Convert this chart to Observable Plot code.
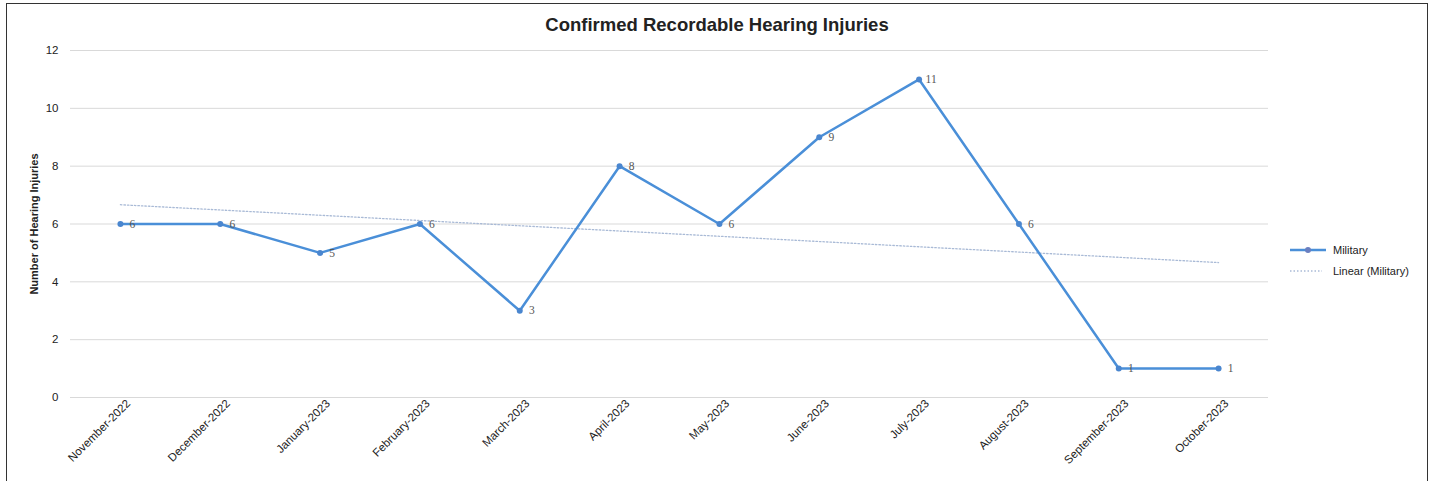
<!DOCTYPE html>
<html>
<head>
<meta charset="utf-8">
<script src="https://cdn.jsdelivr.net/npm/d3@7"></script>
<script src="https://cdn.jsdelivr.net/npm/@observablehq/plot@0.6"></script>
<style>
  html, body { margin: 0; padding: 0; background: #fff; overflow: hidden; }
  #wrap { position: relative; width: 1434px; height: 481px; font-family: "Liberation Sans", Arial, sans-serif; }
  #frame { position: absolute; left: 6px; top: 3px; width: 1422px; height: 490px; border: 1.5px solid #333; box-sizing: border-box; }
  #title { position: absolute; left: 0; width: 1434px; top: 14px; text-align: center; font-size: 18.5px; font-weight: bold; color: #222; }
  #chart { position: absolute; left: 0; top: 40px; }
  #legend { position: absolute; left: 1290px; top: 239px; font-size: 11px; color: #222; }
  .item { display: flex; align-items: center; height: 21px; }
  .sw { width: 36px; margin-right: 7px; position: relative; height: 10px; }
</style>
</head>
<body>
<div id="wrap">
  <div id="frame"></div>
  <div id="title">Confirmed Recordable Hearing Injuries</div>
  <div id="chart"></div>
  <div id="legend">
    <div class="item"><svg class="sw" width="36" height="10"><line x1="0" y1="5" x2="36" y2="5" stroke="#4a8fd8" stroke-width="2.5"/><circle cx="18" cy="5" r="3" fill="#6a7fc0"/></svg><span>Military</span></div>
    <div class="item"><svg class="sw" width="36" height="10"><line x1="0" y1="5" x2="32" y2="5" stroke="#a9bad6" stroke-width="1.3" stroke-dasharray="1.5,2"/></svg><span>Linear (Military)</span></div>
  </div>
</div>
<script>
const months = ["November-2022","December-2022","January-2023","February-2023","March-2023","April-2023","May-2023","June-2023","July-2023","August-2023","September-2023","October-2023"];
const injuries = [6, 6, 5, 6, 3, 8, 6, 9, 11, 6, 1, 1];
const yTicks = [0, 2, 4, 6, 8, 10, 12];
const yLabel = "Number of Hearing Injuries";

const data = months.map((m, i) => ({i, month: m, value: injuries[i]}));

const chart = Plot.plot({
  width: 1434,
  height: 441,
  marginLeft: 70,
  marginRight: 166,
  marginTop: 10,
  marginBottom: 84,
  style: {fontFamily: "'Liberation Sans', Arial, sans-serif", fontSize: "11px", color: "#222", background: "transparent"},
  x: {type: "linear", domain: [-0.5, months.length - 0.5]},
  y: {domain: [0, 12]},
  marks: [
    Plot.gridY(yTicks, {stroke: "#d9d9d9", strokeOpacity: 1, strokeWidth: 1}),
    Plot.axisY({ticks: yTicks, tickSize: 0, tickPadding: 12, label: null, fontSize: 11.5}),
    Plot.text([yLabel], {frameAnchor: "left", textAnchor: "middle", rotate: -90, dx: -36, fontWeight: "bold", fontSize: 11, fill: "#222"}),
    Plot.axisX({ticks: d3.range(months.length), tickFormat: i => months[i], tickRotate: -45, tickSize: 0, tickPadding: 4, dx: 8, label: null, fontSize: 11.5}),
    Plot.linearRegressionY(data, {x: "i", y: "value", ci: 0, stroke: "#a9bad6", strokeWidth: 1.3, strokeDasharray: "1.5,2"}),
    Plot.line(data, {x: "i", y: "value", stroke: "#4a8fd8", strokeWidth: 2.5}),
    Plot.dot(data, {x: "i", y: "value", symbol: "circle", r: 3, fill: "#4a86cf"}),
    Plot.text(data, {x: "i", y: "value", text: d => String(d.value), dx: 12, textAnchor: "middle", fontFamily: "'Liberation Serif', 'DejaVu Serif', serif", fontSize: 11.5, fill: "#555"})
  ]
});
document.getElementById("chart").appendChild(chart);
</script>
</body>
</html>
